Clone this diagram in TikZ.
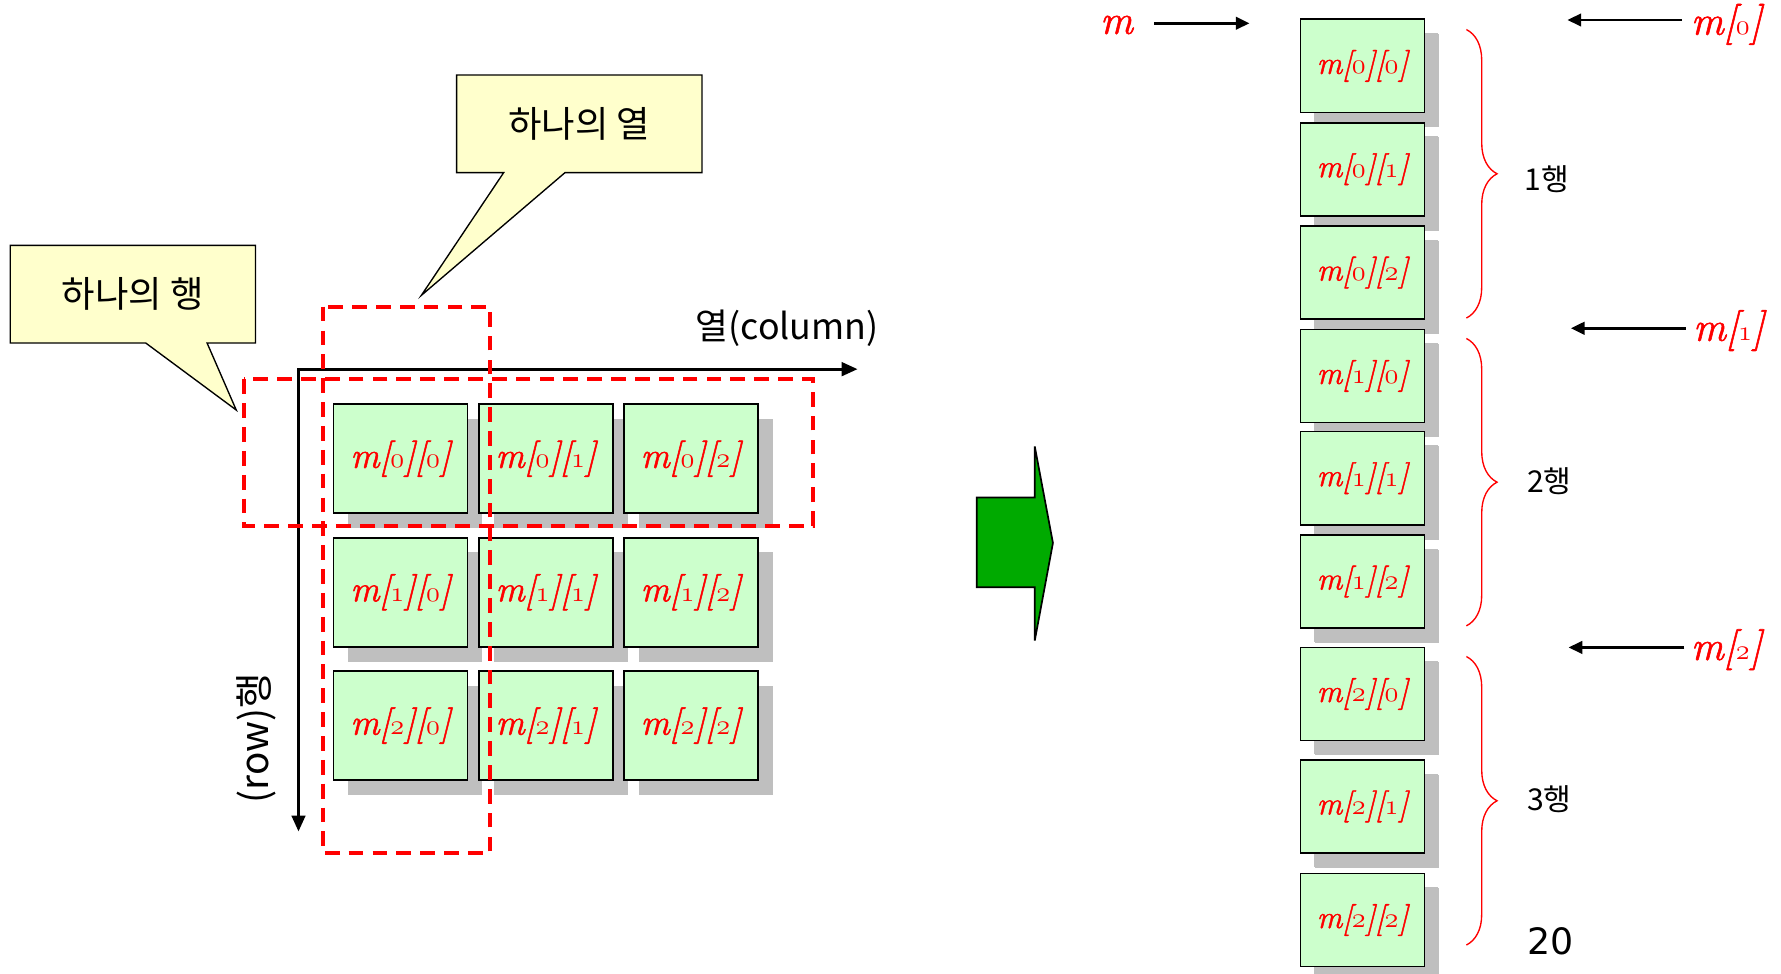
\documentclass[tikz,border=0pt]{standalone}
\usepackage{fontspec}
\newfontfamily\kr{Noto Sans CJK KR}
\newfontfamily\pagefont{DejaVu Sans}
\newfontfamily\idxfam{Latin Modern Roman}[FakeBold=1.4]
\usetikzlibrary{arrows.meta,shapes.callouts,shadows,decorations.pathreplacing}

\definecolor{cellgreen}{HTML}{CCFFCC}
\definecolor{shadowgray}{HTML}{BFBFBF}
\definecolor{calloutyellow}{HTML}{FFFFCC}
\definecolor{arrowgreen}{HTML}{00AA00}

% old-style italic digits for the array indices
\newcommand\osn[1]{{\usefont{OML}{lmm}{b}{it}#1}}
\newcommand\elem[2]{{\idxfam\itshape m[\osn{#1}][\osn{#2}]}}
\newcommand\rowref[1]{{\idxfam\itshape m[\osn{#1}]}}

\tikzset{
  cellbase/.style={draw=black, line width=1.5pt, fill=cellgreen, inner sep=0pt,
    text=red, general shadow={fill=shadowgray, shadow xshift=13pt, shadow yshift=-13pt}},
  cellL/.style={cellbase, minimum width=118pt, minimum height=96pt,
    font=\fontsize{32}{36}\selectfont},
  cellR/.style={cellbase, minimum width=109pt, minimum height=82pt,
    general shadow={fill=shadowgray, shadow xshift=12pt, shadow yshift=-12pt},
    font=\fontsize{28}{32}\selectfont},
  note/.style={rectangle callout, draw=black, line width=1.2pt, fill=calloutyellow,
    minimum width=216pt, minimum height=86pt, inner sep=0pt,
    callout pointer width=54pt, font=\kr\fontsize{32}{36}\selectfont},
  axis/.style={line width=2.4pt, line join=miter,
    {Triangle[length=14pt,width=12pt]}-{Triangle[length=14pt,width=12pt]}},
  ptr/.style={line width=2.3pt, -{Triangle[length=12pt,width=11pt]}},
  reddash/.style={draw=red, line width=3.5pt, dash pattern=on 13pt off 8pt},
  lbl/.style={inner sep=0pt, text=red, font=\fontsize{36}{40}\selectfont},
  rowbrace/.style={draw=red, line width=1.2pt,
    decorate, decoration={brace, amplitude=27pt}},
  krlbl/.style={inner sep=0pt, font=\kr\fontsize{26.5}{30}\selectfont},
}

\begin{document}
\begin{tikzpicture}[x=1pt, y=-1pt]
\fill[white] (0,0) rectangle (1568,857);
\useasboundingbox (0,0) rectangle (1568,857);

% two-dimensional view of the array
\foreach \r/\y in {0/403.9, 1/521.4, 2/638.8} {
  \foreach \c/\x in {0/352.7, 1/480.5, 2/608.2} {
    \node[cellL] (g\r\c) at (\x,\y) {\elem{\r}{\c}};
  }
}

% axes
\coordinate (O) at (262.8,325);
\coordinate (colend) at (755,325);
\coordinate (rowend) at (262.8,732);
\draw[axis] (colend) -- (O) -- (rowend);
\node[inner sep=0pt, font=\kr\fontsize{31.5}{34}\selectfont] (collbl) at (693,289) {열(column)};
\node[inner sep=0pt, rotate=90, font=\kr\fontsize{34}{38}\selectfont] (rowlbl) at (226,650) {(row)행};

% one row and one column marked out
\draw[reddash] (214.6,334) rectangle (716,462.8);
\draw[reddash] (284,270) rectangle (431.5,751);

% callouts
\node[note, callout absolute pointer={(208,361)}] (rownote) at (117,259) {하나의 행};
\node[note, callout absolute pointer={(371,260)}] (colnote) at (510,109) {하나의 열};

% block arrow between the two views
\draw[fill=arrowgreen, line width=1.5pt, line join=miter]
  (860,438) -- (911,438) -- (911,393) -- (927,478) -- (911,564) -- (911,517) -- (860,517) -- cycle;

% the same array laid out in memory
\foreach \i/\y in {0/58, 1/149, 2/240} {
  \node[cellR] (r0\i) at (1199.5,\y) {\elem{0}{\i}};
}
\foreach \i/\y in {0/331, 1/421, 2/512} {
  \node[cellR] (r1\i) at (1199.5,\y) {\elem{1}{\i}};
}
\foreach \i/\y in {0/611, 1/710, 2/810} {
  \node[cellR] (r2\i) at (1199.5,\y) {\elem{2}{\i}};
}

% pointers
\node[lbl] (mlab) at (983,22) {{\idxfam\itshape m}};
\coordinate (ms) at (1016,20.5);
\coordinate (me) at (1100,20.5);
\draw[ptr] (ms) -- (me);

\node[lbl] (m0lab) at (1520,21.5) {\rowref{0}};
\coordinate (m0s) at (1481,17.6);
\coordinate (m0e) at (1380,17.6);
\draw[ptr] (m0s) -- (m0e);

\node[lbl] (m1lab) at (1522,291) {\rowref{1}};
\coordinate (m1s) at (1484,289);
\coordinate (m1e) at (1383,289);
\draw[ptr] (m1s) -- (m1e);

\node[lbl] (m2lab) at (1520,572) {\rowref{2}};
\coordinate (m2s) at (1483,570);
\coordinate (m2e) at (1381,570);
\draw[ptr] (m2s) -- (m2e);

% row braces
\coordinate (b1t) at (1291,26);   \coordinate (b1b) at (1291,280);
\coordinate (b2t) at (1291,298);  \coordinate (b2b) at (1291,551);
\coordinate (b3t) at (1291,578);  \coordinate (b3b) at (1291,832);
\draw[rowbrace] (b1t) -- (b1b);
\draw[rowbrace] (b2t) -- (b2b);
\draw[rowbrace] (b3t) -- (b3b);
\node[krlbl] (row1) at (1362,158) {1행};
\node[krlbl] (row2) at (1364,424) {2행};
\node[krlbl] (row3) at (1364,704) {3행};

% page number
\node[inner sep=0pt, font=\pagefont\fontsize{32}{36}\selectfont] (pageno) at (1365,829) {20};
\end{tikzpicture}
\end{document}
